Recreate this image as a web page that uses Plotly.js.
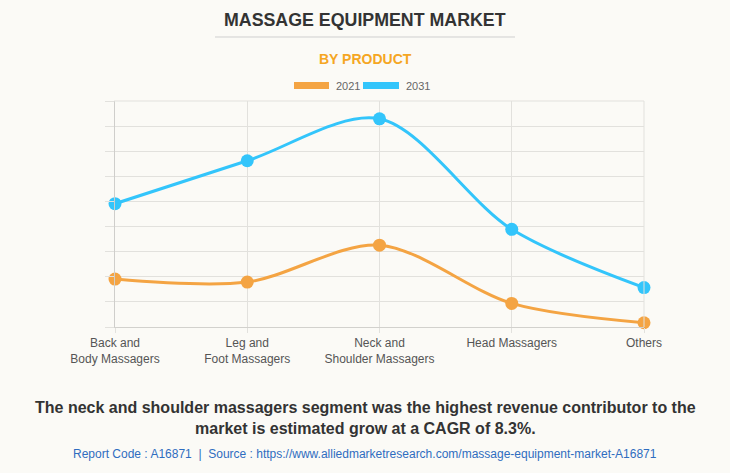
<!DOCTYPE html>
<html>
<head>
<meta charset="utf-8">
<script src="https://cdn.plot.ly/plotly-3.0.1.min.js"></script>
<style>
html,body{margin:0;padding:0;background:#fbfaf6;}
#chart{width:730px;height:473px;}
</style>
</head>
<body>
<div id="chart"></div>
<script>
const categories = ["Back and<br>Body Massagers", "Leg and<br>Foot Massagers", "Neck and<br>Shoulder Massagers", "Head Massagers", "Others"];
const values2021 = [1.91, 1.79, 3.26, 0.94, 0.17];
const values2031 = [4.91, 6.62, 8.29, 3.89, 1.57];
const seriesNames = ["2021", "2031"];
const colors = ["#f4a443", "#33c5fb"];

const traces = [values2021, values2031].map((v, i) => ({
  type: "scatter",
  mode: "lines+markers",
  name: seriesNames[i],
  x: categories,
  y: v,
  line: {color: colors[i], width: 3, shape: "spline", smoothing: 0.9},
  marker: {color: colors[i], size: 13},
  cliponaxis: false,
  showlegend: false,
  hoverinfo: "skip"
}));

const gridC = "#e2e1dd";
const layout = {
  width: 730, height: 473,
  paper_bgcolor: "#fbfaf6",
  plot_bgcolor: "#fbfaf6",
  margin: {l: 115, r: 86, t: 101, b: 146},
  font: {family: "Liberation Sans, Arial, sans-serif", color: "#555"},
  xaxis: {
    type: "category",
    range: [0, 4],
    showgrid: true, gridcolor: gridC, gridwidth: 1,
    ticks: "outside", ticklen: 5, tickcolor: gridC,
    showline: true, linecolor: "#d2d1cd",
    tickfont: {size: 12, color: "#555"},
    zeroline: false, fixedrange: true
  },
  yaxis: {
    range: [0, 9], dtick: 1,
    showgrid: true, gridcolor: gridC, gridwidth: 1,
    ticks: "outside", ticklen: 9, tickcolor: gridC,
    showticklabels: false,
    showline: true, linecolor: "#cfcecb",
    zeroline: false, fixedrange: true
  },
  shapes: [
    {type: "line", xref: "paper", yref: "paper", x0: 1, x1: 1, y0: 0, y1: 1, line: {color: gridC, width: 1}},
    {type: "line", xref: "paper", yref: "paper", x0: -0.002, x1: 1, y0: 1, y1: 1, line: {color: gridC, width: 1}},
    {type: "line", xref: "paper", yref: "paper", x0: (215-115)/529, x1: (515-115)/529, y0: (473-146-37)/226, y1: (473-146-37)/226, line: {color: "#cfcfcf", width: 1}},
    {type: "rect", xref: "paper", yref: "paper", x0: (294-115)/529, x1: (329-115)/529, y0: (327-89)/226, y1: (327-82)/226, fillcolor: colors[0], line: {color: colors[0], width: 0}},
    {type: "rect", xref: "paper", yref: "paper", x0: (363-115)/529, x1: (399-115)/529, y0: (327-89)/226, y1: (327-82)/226, fillcolor: colors[1], line: {color: colors[1], width: 0}}
  ],
  annotations: [
    {text: "<b>MASSAGE EQUIPMENT MARKET</b>", xref: "paper", yref: "paper", x: (365-115)/529, y: (327-20)/226, xanchor: "center", yanchor: "middle", showarrow: false, font: {size: 17.8, color: "#333", family: "Liberation Sans, Arial, sans-serif"}},
    {text: "<b>BY PRODUCT</b>", xref: "paper", yref: "paper", x: (365-115)/529, y: (327-59)/226, xanchor: "center", yanchor: "middle", showarrow: false, font: {size: 14, color: "#f5a623"}},
    {text: seriesNames[0], xref: "paper", yref: "paper", x: (334-115)/529, y: (327-86)/226, xanchor: "left", yanchor: "middle", showarrow: false, font: {size: 11, color: "#666"}},
    {text: seriesNames[1], xref: "paper", yref: "paper", x: (404-115)/529, y: (327-86)/226, xanchor: "left", yanchor: "middle", showarrow: false, font: {size: 11, color: "#666"}},
    {text: "<b>The neck and shoulder massagers segment was the highest revenue contributor to the<br>market is estimated grow at a CAGR of 8.3%.</b>", xref: "paper", yref: "paper", x: (365-115)/529, y: (327-418)/226, xanchor: "center", yanchor: "middle", showarrow: false, font: {size: 16, color: "#333"}},
    {text: "Report Code : A16871  |  Source : https://www.alliedmarketresearch.com/massage-equipment-market-A16871", xref: "paper", yref: "paper", x: (365-115)/529, y: (327-454)/226, xanchor: "center", yanchor: "middle", showarrow: false, font: {size: 12, color: "#2f6dc0"}}
  ]
};

Plotly.newPlot("chart", traces, layout, {displayModeBar: false, staticPlot: true});
</script>
</body>
</html>
